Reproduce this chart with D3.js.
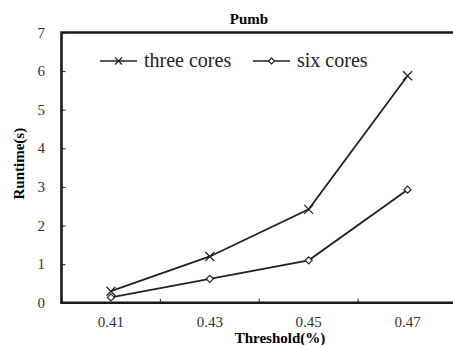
<!DOCTYPE html>
<html>
<head>
<meta charset="utf-8">
<script src="https://d3js.org/d3.v7.min.js"></script>
<style>
  body { margin: 0; background: #fff; }
</style>
</head>
<body>
<script>
// chart values
var thresholds = ["0.41", "0.43", "0.45", "0.47"];
var threeCores = [0.3, 1.2, 2.42, 5.88];
var sixCores = [0.14, 0.62, 1.1, 2.93];
var yTicks = [0, 1, 2, 3, 4, 5, 6, 7];
var seriesNames = ["three cores", "six cores"];

var W = 453, H = 345;
var plotL = 61.5, plotT = 32.5, plotR = 457, plotB = 302.8;
var serif = "'Liberation Serif', 'DejaVu Serif', serif";

var svg = d3.select("body").append("svg")
  .attr("width", W).attr("height", H)
  .attr("font-family", serif);

var x = d3.scaleBand().domain(thresholds).range([plotL, plotR]);
var y = d3.scaleLinear().domain([0, 7]).range([plotB, plotT]);

// title
svg.append("text")
  .attr("x", 249).attr("y", 24)
  .attr("text-anchor", "middle")
  .style("font-size", "15px").style("font-weight", "bold")
  .text("Pumb");

// y axis (ticks inward)
var yAxis = svg.append("g")
  .attr("transform", "translate(" + plotL + ",0)")
  .call(d3.axisRight(y).tickValues(yTicks).tickSize(4).tickFormat(""));
yAxis.select(".domain").remove();
yAxis.selectAll("line").attr("stroke", "#222").attr("stroke-width", 1);

svg.selectAll(".ylab").data(yTicks).enter().append("text")
  .attr("class", "ylab")
  .attr("x", 45).attr("y", function(d) { return y(d) + 5; })
  .attr("text-anchor", "end")
  .style("font-size", "15px").style("fill", "#333")
  .text(function(d) { return d; });

// x axis: ticks between categories, inward
var between = thresholds.slice(1).map(function(d) { return x(d); });
svg.selectAll(".xt").data(between).enter().append("line")
  .attr("x1", function(d) { return d; }).attr("x2", function(d) { return d; })
  .attr("y1", plotB).attr("y2", plotB - 4)
  .attr("stroke", "#222").attr("stroke-width", 1);

svg.selectAll(".xlab").data(thresholds).enter().append("text")
  .attr("class", "xlab")
  .attr("x", function(d) { return x(d) + x.bandwidth() / 2; })
  .attr("y", 327)
  .attr("text-anchor", "middle")
  .style("font-size", "15px").style("fill", "#333")
  .text(function(d) { return d; });

// frame
svg.append("path")
  .attr("d", "M" + plotR + "," + plotT + "H" + plotL + "V" + plotB + "H" + plotR)
  .attr("fill", "none").attr("stroke", "#1a1a1a").attr("stroke-width", 2.6);

// axis titles
svg.append("text")
  .attr("x", 280).attr("y", 343)
  .attr("text-anchor", "middle")
  .style("font-size", "15px").style("font-weight", "bold")
  .text("Threshold(%)");

svg.append("text")
  .attr("transform", "translate(24," + ((plotT + plotB) / 2 - 4) + ") rotate(-90)")
  .attr("text-anchor", "middle")
  .style("font-size", "15px").style("font-weight", "bold")
  .text("Runtime(s)");

var cx = function(d, i) { return x(thresholds[i]) + x.bandwidth() / 2; };
var line = d3.line().x(cx).y(function(d) { return y(d); });

function cross(g, px, py, s) {
  g.append("path")
    .attr("d", "M" + (px - s) + "," + (py - s) + "L" + (px + s) + "," + (py + s) +
               "M" + (px - s) + "," + (py + s) + "L" + (px + s) + "," + (py - s))
    .attr("stroke", "#222").attr("stroke-width", 1.2).attr("fill", "none");
}
function diamond(g, px, py, s) {
  g.append("path")
    .attr("d", "M" + px + "," + (py - s) + "L" + (px + s) + "," + py +
               "L" + px + "," + (py + s) + "L" + (px - s) + "," + py + "Z")
    .attr("stroke", "#222").attr("stroke-width", 1.2).attr("fill", "#fff");
}

// three cores
svg.append("path").datum(threeCores).attr("d", line)
  .attr("fill", "none").attr("stroke", "#222").attr("stroke-width", 1.8);
threeCores.forEach(function(d, i) { cross(svg, cx(d, i), y(d), 4.5); });

// six cores
svg.append("path").datum(sixCores).attr("d", line)
  .attr("fill", "none").attr("stroke", "#222").attr("stroke-width", 1.8);
sixCores.forEach(function(d, i) { diamond(svg, cx(d, i), y(d), 3.5); });

// legend
var legY = 61;
var leg = [{x0: 100, name: seriesNames[0], m: "x"}, {x0: 253, name: seriesNames[1], m: "d"}];
leg.forEach(function(l) {
  svg.append("line").attr("x1", l.x0).attr("x2", l.x0 + 37)
    .attr("y1", legY).attr("y2", legY)
    .attr("stroke", "#222").attr("stroke-width", 1.6);
  if (l.m === "x") cross(svg, l.x0 + 18.5, legY, 3.5);
  else diamond(svg, l.x0 + 18.5, legY, 3);
  svg.append("text").attr("x", l.x0 + 44).attr("y", legY + 6)
    .style("font-size", "20px").style("fill", "#222")
    .text(l.name);
});
</script>
</body>
</html>
